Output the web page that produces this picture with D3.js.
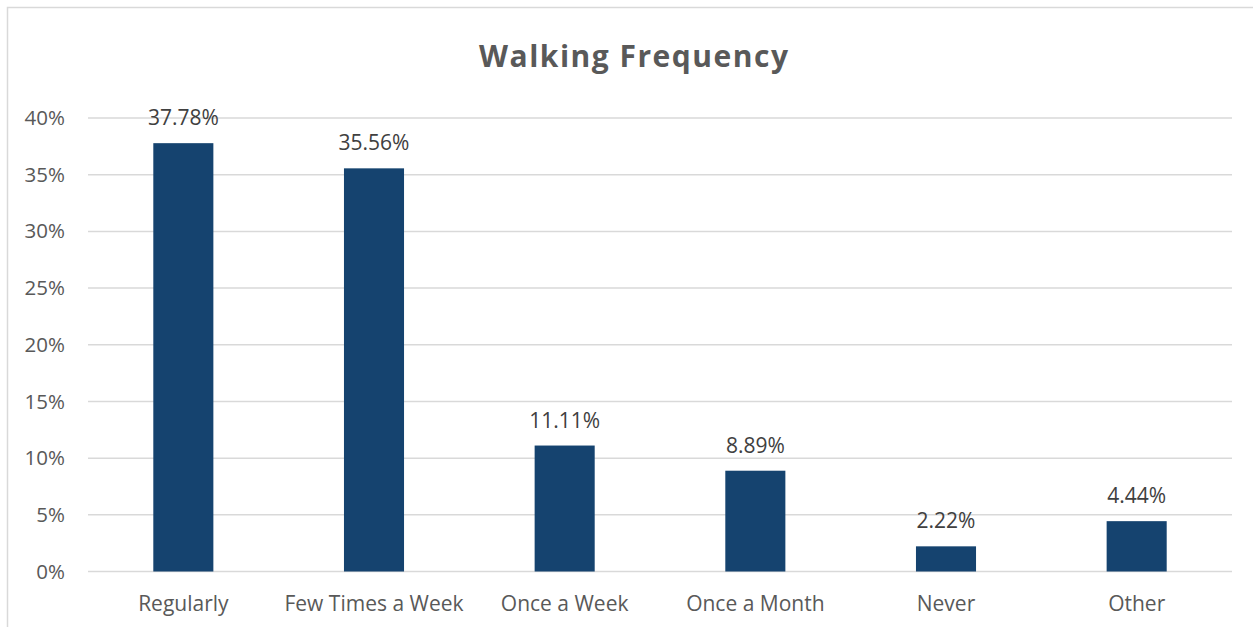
<!DOCTYPE html>
<html>
<head>
<meta charset="utf-8">
<script src="https://cdn.jsdelivr.net/npm/d3@7"></script>
<style>
  html, body { margin: 0; padding: 0; background: #fff; }
  svg { display: block; }
</style>
</head>
<body>
<svg id="chart" width="1253" height="627"></svg>
<script>
// Survey answers: how often respondents walk
const categories = ["Regularly", "Few Times a Week", "Once a Week", "Once a Month", "Never", "Other"];
const shares = [37.78, 35.56, 11.11, 8.89, 2.22, 4.44];
const yTicks = [0, 5, 10, 15, 20, 25, 30, 35, 40];
const titleText = "Walking Frequency";

const W = 1253, H = 627;
const margin = { left: 88, right: 21, top: 118, bottom: 55.5 };

const svg = d3.select("#chart");

// chart frame
svg.append("rect")
  .attr("x", 7.5).attr("y", 7.5)
  .attr("width", W + 10).attr("height", H + 10)
  .attr("fill", "#fff")
  .attr("stroke", "#d9d9d9")
  .attr("stroke-width", 1.5);

const x = d3.scaleBand()
  .domain(categories)
  .range([margin.left, W - margin.right])
  .paddingInner(0.685)
  .paddingOuter(0.3425);

const y = d3.scaleLinear()
  .domain([0, 40])
  .range([H - margin.bottom, margin.top]);

// horizontal gridlines
svg.append("g")
  .selectAll("line")
  .data(yTicks)
  .join("line")
  .attr("x1", margin.left)
  .attr("x2", W - margin.right)
  .attr("y1", d => y(d))
  .attr("y2", d => y(d))
  .attr("stroke", "#d9d9d9")
  .attr("stroke-width", 1.5);

// y axis labels
const yAxis = d3.axisLeft(y)
  .tickValues(yTicks)
  .tickFormat(d => d + "%")
  .tickSize(0)
  .tickPadding(0);

svg.append("g")
  .attr("transform", `translate(${65},0)`)
  .call(yAxis)
  .call(g => g.select(".domain").remove())
  .call(g => g.selectAll("text")
    .attr("fill", "#595959")
    .attr("font-family", "'Open Sans', sans-serif")
    .attr("font-size", 20.5));

// x axis labels
const xAxis = d3.axisBottom(x).tickSize(0).tickPadding(0);
svg.append("g")
  .attr("transform", `translate(0,${H - margin.bottom})`)
  .call(xAxis)
  .call(g => g.select(".domain").remove())
  .call(g => g.selectAll("text")
    .attr("dy", null)
    .attr("y", 39)
    .attr("fill", "#595959")
    .attr("font-family", "'Open Sans', sans-serif")
    .attr("font-size", 21));

// bars
svg.append("g")
  .selectAll("rect")
  .data(categories)
  .join("rect")
  .attr("x", d => x(d))
  .attr("width", x.bandwidth())
  .attr("y", (d, i) => y(shares[i]))
  .attr("height", (d, i) => y(0) - y(shares[i]))
  .attr("fill", "#15436f");

// value labels
svg.append("g")
  .selectAll("text")
  .data(categories)
  .join("text")
  .attr("x", d => x(d) + x.bandwidth() / 2)
  .attr("y", (d, i) => y(shares[i]) - 18)
  .attr("text-anchor", "middle")
  .attr("fill", "#404040")
  .attr("font-family", "'Open Sans', sans-serif")
  .attr("font-size", 21)
  .text((d, i) => shares[i].toFixed(2) + "%");

// title
svg.append("text")
  .attr("x", 633.5)
  .attr("y", 67)
  .attr("text-anchor", "middle")
  .attr("fill", "#595959")
  .attr("font-family", "'Open Sans', sans-serif")
  .attr("font-weight", "bold")
  .attr("font-size", 30)
  .attr("textLength", 309)
  .attr("lengthAdjust", "spacing")
  .text(titleText);
</script>
</body>
</html>
